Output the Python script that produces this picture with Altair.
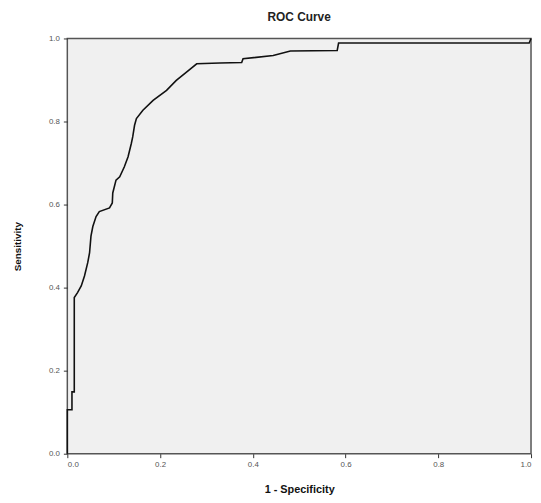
import altair as alt
import pandas as pd

# 1 - Specificity (false positive rate)
fpr = [0.000, 0.000, 0.010, 0.010, 0.015, 0.015, 0.022, 0.030, 0.037, 0.044,
       0.048, 0.051, 0.055, 0.062, 0.069, 0.091, 0.097, 0.098, 0.105, 0.113,
       0.123, 0.131, 0.138, 0.141, 0.145, 0.149, 0.163, 0.185, 0.214, 0.235,
       0.257, 0.279, 0.329, 0.376, 0.379, 0.444, 0.481, 0.582, 0.585, 0.996,
       1.000]
# Sensitivity (true positive rate)
tpr = [0.000, 0.106, 0.106, 0.149, 0.149, 0.376, 0.388, 0.404, 0.428, 0.460,
       0.484, 0.524, 0.547, 0.571, 0.583, 0.592, 0.604, 0.628, 0.659, 0.667,
       0.691, 0.715, 0.747, 0.763, 0.791, 0.807, 0.827, 0.851, 0.875, 0.899,
       0.919, 0.939, 0.941, 0.942, 0.951, 0.959, 0.970, 0.971, 0.989, 0.989,
       1.000]
tick_values = [0.0, 0.2, 0.4, 0.6, 0.8, 1.0]

df = pd.DataFrame({"fpr": fpr, "tpr": tpr, "order": list(range(len(fpr)))})

FONT = "Liberation Sans"

line = alt.Chart(df).mark_line(color="#111111", strokeWidth=1.6).encode(
    x=alt.X("fpr:Q", title="1 - Specificity",
            scale=alt.Scale(domain=[0, 1], nice=False, zero=False),
            axis=alt.Axis(values=tick_values, format=".1f", grid=False, domain=False,
                          tickColor="#333333", tickSize=4, labelFontSize=8,
                          labelColor="#555555", labelPadding=3, labelFont=FONT,
                          titleFont=FONT, titleFontSize=11, titleFontWeight="bold",
                          titleColor="#111111", titlePadding=15)),
    y=alt.Y("tpr:Q", title="Sensitivity",
            scale=alt.Scale(domain=[0, 1], nice=False, zero=False),
            axis=alt.Axis(values=tick_values, format=".1f", grid=False, domain=False,
                          tickColor="#333333", tickSize=4, labelFontSize=8,
                          labelColor="#555555", labelPadding=4, labelFont=FONT,
                          titleFont=FONT, titleFontSize=10, titleFontWeight="bold",
                          titleColor="#111111", titlePadding=26)),
    order="order:Q",
)

chart = line.properties(
    width=469,
    height=420,
    title=alt.TitleParams("ROC Curve", font=FONT, fontSize=12, fontWeight="bold",
                          color="#222222", anchor="middle", offset=11),
    autosize=alt.AutoSizeParams(type="none"),
    padding={"left": 60, "top": 28, "right": 2, "bottom": 44},
).configure(
    background="white"
).configure_view(
    fill="#F0F0F0", stroke="#555555", strokeWidth=1.5
)

chart.save("out.html", embed_options={"renderer": "svg", "actions": False})
